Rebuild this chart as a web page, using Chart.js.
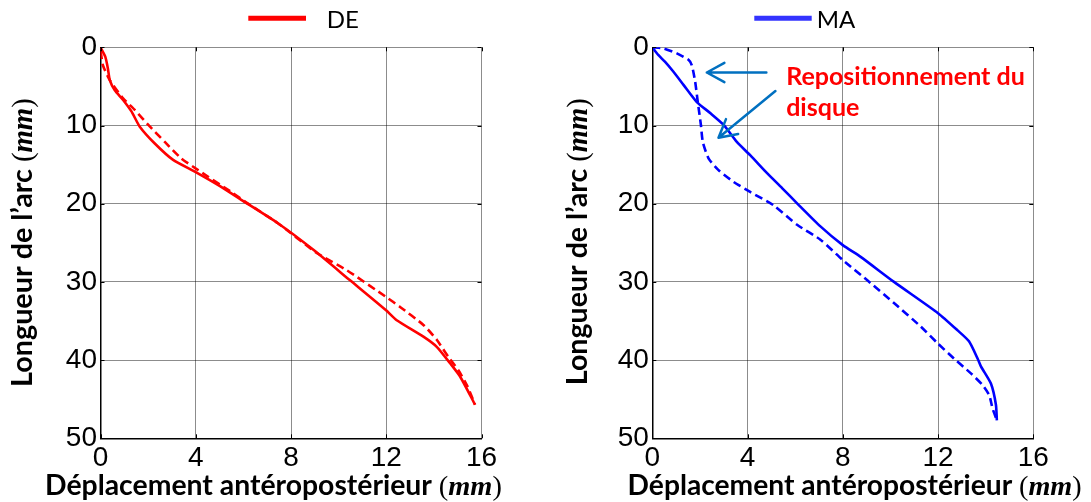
<!DOCTYPE html>
<html>
<head>
<meta charset="utf-8">
<title>DE / MA</title>
<script src="https://cdn.jsdelivr.net/npm/chart.js@4.4.1/dist/chart.umd.min.js"></script>
<style>
  body { margin: 0; background: #fff; }
  #wrap { position: relative; width: 1091px; height: 502px; }
  canvas { position: absolute; top: 0; }
</style>
</head>
<body>
<div id="wrap">
  <canvas id="chartDE" width="545" height="502" style="left:0"></canvas>
  <canvas id="chartMA" width="546" height="502" style="left:545px"></canvas>
</div>
<script>
// --- Data (x = déplacement mm, y = longueur de l'arc mm) ---
const xTicks = [0, 4, 8, 12, 16];
const yTicks = [0, 10, 20, 30, 40, 50];

const deSolidX = [0, 0.2, 0.31, 0.39, 0.6, 0.94, 1.3, 1.65, 2.28, 3.05, 3.96, 4.93, 5.91, 7.45, 8.94, 10.48, 11.98, 12.44, 13.56, 14.12, 14.68, 15.1, 15.73];
const deSolidY = [0, 1.2, 2.7, 4.2, 5.5, 6.7, 8.2, 10.15, 12.3, 14.4, 15.9, 17.6, 19.5, 22.5, 25.9, 29.8, 33.6, 34.9, 37.0, 38.3, 40.4, 42.1, 45.7];
const deDashX = [0, 0.03, 0.1, 0.39, 0.94, 1.44, 2.0, 2.7, 3.39, 4.1, 5.49, 6.2, 7.45, 9.08, 10.34, 11.98, 12.58, 13.56, 14.12, 14.61, 15.03, 15.4, 15.73];
const deDashY = [0.5, 1.0, 2.3, 4.2, 6.5, 8.0, 9.9, 12.1, 14.2, 15.7, 18.5, 20.0, 22.5, 26.3, 28.5, 31.9, 33.2, 35.5, 37.4, 39.6, 41.3, 43.3, 45.7];

const maSolidX = [0, 0.25, 0.53, 0.88, 1.31, 1.87, 2.43, 2.99, 3.55, 4.11, 4.82, 5.45, 6.08, 7.06, 8.0, 8.75, 10.15, 12.0, 12.82, 13.3, 13.66, 13.8, 14.22, 14.43, 14.47];
const maSolidY = [0, 0.98, 1.84, 3.1, 4.8, 7.0, 8.4, 9.9, 12.1, 13.8, 16.1, 18.0, 19.95, 22.9, 25.3, 26.8, 30.0, 34.0, 36.2, 37.6, 39.8, 40.8, 43.0, 45.7, 47.7];
const maDashX = [0, 0.46, 1.03, 1.52, 1.66, 1.8, 1.91, 2.04, 2.12, 2.36, 2.78, 3.41, 4.11, 5.09, 6.08, 7.06, 8.0, 9.03, 10.15, 11.27, 12.0, 12.67, 13.38, 13.87, 14.15, 14.29, 14.47];
const maDashY = [0, 0.13, 0.77, 1.6, 2.3, 4.4, 7.0, 9.9, 12.1, 14.2, 15.7, 17.2, 18.5, 20.2, 22.7, 24.6, 27.2, 29.8, 32.7, 35.7, 37.9, 39.8, 41.7, 43.2, 44.5, 46.2, 47.7];

// annotation on the MA panel (data coordinates)
const noteLines = ['Repositionnement du', 'disque'];
const noteAt = [5.62, 4.82, 8.79];            // x, baseline line 1, baseline line 2
const noteArrows = [[4.79, 3.22, 2.29, 3.22], [5.17, 5.59, 2.78, 11.56]]; // tail x,y -> tip x,y

const xTitle = 'Déplacement antéropostérieur ';
const yTitle = 'Longueur de l’arc ';

function pts(xs, ys) { return xs.map((x, i) => ({ x: x, y: ys[i] })); }

function titleParts(txt) {
  return [[txt, 'bold', 'Lato'], ['(', '', 'Liberation Serif'], ['mm', 'italic bold', 'Liberation Serif'], [')', '', 'Liberation Serif']];
}
function fitSize(ctx, parts, width) {
  let w = 0;
  parts.forEach(p => { ctx.font = `${p[1]} 100px "${p[2]}"`; w += ctx.measureText(p[0]).width; });
  return 100 * width / w;
}
function drawParts(ctx, parts, x, y, size) {
  let cx = x;
  parts.forEach(p => {
    ctx.font = `${p[1]} ${size}px "${p[2]}"`;
    ctx.fillText(p[0], cx, y);
    cx += ctx.measureText(p[0]).width;
  });
}

// frame ticks, legend and axis titles
const deco = {
  id: 'deco',
  afterDraw(chart, args, o) {
    const ctx = chart.ctx;
    const { left, right, top, bottom } = chart.chartArea;
    const xs = chart.scales.x, ys = chart.scales.y;
    ctx.save();
    ctx.strokeStyle = '#000';
    ctx.lineWidth = 1;
    ctx.beginPath();
    xTicks.forEach(v => {
      const p = Math.round(xs.getPixelForValue(v)) + 0.5;
      ctx.moveTo(p, bottom); ctx.lineTo(p, bottom - 4);
      ctx.moveTo(p, top); ctx.lineTo(p, top + 4);
    });
    yTicks.forEach(v => {
      const p = Math.round(ys.getPixelForValue(v)) + 0.5;
      ctx.moveTo(left, p); ctx.lineTo(left + 4, p);
      ctx.moveTo(right, p); ctx.lineTo(right - 4, p);
    });
    ctx.stroke();

    // legend
    ctx.strokeStyle = o.color;
    ctx.lineWidth = 5;
    ctx.beginPath();
    ctx.moveTo(o.legend[0], o.legend[2]);
    ctx.lineTo(o.legend[1], o.legend[2]);
    ctx.stroke();
    ctx.fillStyle = '#000';
    ctx.textBaseline = 'alphabetic';
    ctx.textAlign = 'left';
    ctx.font = '24px Lato';
    ctx.fillText(o.label, o.legend[3], o.legend[4]);

    // x title
    const xp = titleParts(xTitle);
    const xs2 = fitSize(ctx, xp, o.xt[1] - o.xt[0]);
    drawParts(ctx, xp, o.xt[0], o.xt[2], xs2);

    // y title (rotated)
    const yp = titleParts(yTitle);
    const ys2 = fitSize(ctx, yp, o.yt[2]);
    ctx.translate(o.yt[0], o.yt[1]);
    ctx.rotate(-Math.PI / 2);
    drawParts(ctx, yp, -o.yt[2] / 2, 0, ys2);
    ctx.restore();
  }
};

const note = {
  id: 'note',
  afterDraw(chart) {
    const ctx = chart.ctx;
    const xs = chart.scales.x, ys = chart.scales.y;
    ctx.save();
    ctx.strokeStyle = '#0070c0';
    ctx.lineWidth = 2.5;
    ctx.lineCap = 'round';
    noteArrows.forEach(a => {
      const x0 = xs.getPixelForValue(a[0]), y0 = ys.getPixelForValue(a[1]);
      const x1 = xs.getPixelForValue(a[2]), y1 = ys.getPixelForValue(a[3]);
      const ang = Math.atan2(y1 - y0, x1 - x0);
      ctx.beginPath();
      ctx.moveTo(x0, y0); ctx.lineTo(x1, y1);
      [0.5, -0.5].forEach(d => {
        ctx.moveTo(x1, y1);
        ctx.lineTo(x1 - 20 * Math.cos(ang + d), y1 - 20 * Math.sin(ang + d));
      });
      ctx.stroke();
    });
    ctx.fillStyle = '#ff0000';
    ctx.textAlign = 'left';
    ctx.textBaseline = 'alphabetic';
    ctx.font = 'bold 100px Lato';
    const size = 100 * 238.8 / ctx.measureText(noteLines[0]).width;
    ctx.font = `bold ${size}px Lato`;
    const nx = xs.getPixelForValue(noteAt[0]);
    ctx.fillText(noteLines[0], nx, ys.getPixelForValue(noteAt[1]));
    ctx.fillText(noteLines[1], nx, ys.getPixelForValue(noteAt[2]));
    ctx.restore();
  }
};

function makeChart(id, color, solid, dash, o, padRight, yWidth, extra) {
  return new Chart(document.getElementById(id), {
    type: 'line',
    data: {
      datasets: [
        { data: solid, borderColor: color, borderWidth: 2.6, pointRadius: 0, tension: 0.2, fill: false },
        { data: dash, borderColor: color, borderWidth: 2.6, borderDash: [8, 4.5], pointRadius: 0, tension: 0.2, fill: false }
      ]
    },
    options: {
      responsive: false,
      animation: false,
      layout: { padding: { left: 0, right: padRight, top: 47.3, bottom: 0 } },
      plugins: { legend: { display: false }, tooltip: { enabled: false }, deco: o },
      scales: {
        x: {
          type: 'linear', min: 0, max: 16,
          afterBuildTicks: s => { s.ticks = xTicks.map(v => ({ value: v })); },
          afterFit: s => { s.height = 63.7; },
          grid: { color: 'rgba(0,0,0,0.45)', lineWidth: 1, drawTicks: false },
          border: { color: '#000', width: 1.5 },
          ticks: { color: '#000', padding: 3, font: { family: 'Liberation Sans', size: 28 }, maxRotation: 0 }
        },
        y: {
          type: 'linear', min: 0, max: 50, reverse: true,
          afterBuildTicks: s => { s.ticks = yTicks.map(v => ({ value: v })); },
          afterFit: s => { s.width = yWidth; },
          grid: { color: 'rgba(0,0,0,0.45)', lineWidth: 1, drawTicks: false },
          border: { color: '#000', width: 1.5 },
          ticks: { color: '#000', padding: 3.5, font: { family: 'Liberation Sans', size: 28 } }
        }
      }
    },
    plugins: [deco].concat(extra)
  });
}

makeChart('chartDE', '#ff0000', pts(deSolidX, deSolidY), pts(deDashX, deDashY),
  { color: '#ff0000', label: 'DE', legend: [248.3, 306, 18.3, 326.7, 28.3], xt: [45, 502, 495], yt: [31.7, 242.5, 289] },
  63.5, 100.5, []);

makeChart('chartMA', '#0000ff', pts(maSolidX, maSolidY), pts(maDashX, maDashY),
  { color: '#3333ff', label: 'MA', legend: [209.3, 266.7, 18.3, 271.8, 28.3], xt: [82.6, 537, 495], yt: [42, 241.7, 287] },
  57.7, 107.3, [note]);
</script>
</body>
</html>
